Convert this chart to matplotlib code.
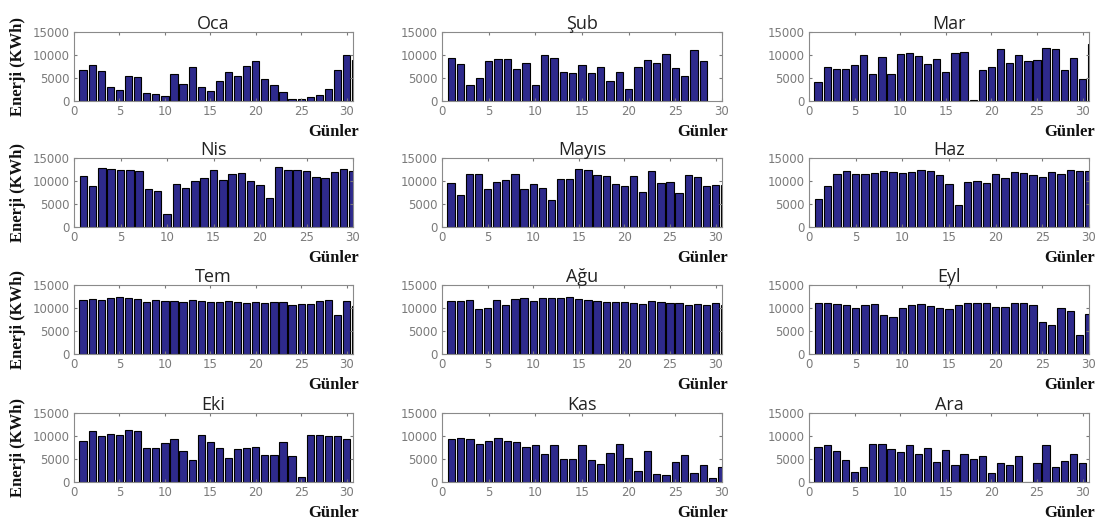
import matplotlib
matplotlib.use('Agg')
import matplotlib.pyplot as plt
import numpy as np

# month titles and daily energy values (KWh)
months = ['Oca', 'Şub', 'Mar', 'Nis', 'Mayıs', 'Haz',
          'Tem', 'Ağu', 'Eyl', 'Eki', 'Kas', 'Ara']

oca = [6700, 7900, 6500, 3100, 2400, 5500, 5300, 1800, 1600, 1000, 5900, 3600, 7400, 3000, 2200, 4400,
       6300, 5500, 7700, 8600, 4800, 3500, 2000, 500, 500, 900, 1300, 2700, 6700, 9900, 9000]
sub = [9400, 8000, 3400, 5100, 8700, 9100, 9100, 7000, 8200, 3400, 9900, 9400, 6200, 6000, 7800, 6100,
       7400, 4400, 6400, 2700, 7400, 8900, 8300, 10300, 7100, 5500, 11100, 8800]
mar = [4200, 7400, 6900, 7000, 7900, 9900, 5900, 9600, 5900, 10300, 10400, 9800, 8100, 9200, 6300, 10500,
       10700, 300, 6700, 7400, 11300, 8300, 10000, 8600, 9000, 11500, 11300, 6700, 9400, 4800, 12300]
nis = [11100, 9000, 12900, 12600, 12400, 12400, 12100, 8200, 7900, 2900, 9300, 8400, 9900, 10700, 12300,
       10200, 11500, 11700, 10000, 9100, 6400, 13100, 12400, 12400, 12100, 10900, 10700, 11900, 12700, 12200]
mayis = [9600, 6900, 11500, 11500, 8300, 9700, 10300, 11500, 8200, 9400, 8400, 5900, 10400, 10400, 12600,
         12300, 11300, 11100, 9300, 9000, 11000, 7600, 12200, 9500, 9700, 7300, 11300, 10800, 9000, 9100, 9100]
haz = [6100, 9000, 11500, 12200, 11500, 11500, 11700, 12100, 11900, 11700, 11900, 12300, 12100, 11300, 9400,
       4700, 9800, 10100, 9600, 11500, 10600, 12000, 11700, 11300, 10800, 11900, 11500, 12300, 12100, 12100]
tem = [11800, 12000, 11800, 12200, 12400, 12200, 12000, 11400, 11800, 11600, 11600, 11400, 11800, 11600,
       11400, 11400, 11600, 11400, 11000, 11400, 11000, 11200, 11200, 10600, 10800, 10800, 11600, 11800,
       8400, 11600, 10400]
agu = [11600, 11600, 11800, 9800, 10100, 11800, 10600, 11900, 12200, 11600, 12100, 12100, 12100, 12400,
       11900, 11800, 11600, 11400, 11400, 11400, 11100, 10900, 11600, 11400, 11100, 11100, 10600, 10900,
       10700, 11100, 10700]
eyl = [11000, 11000, 10800, 10600, 10100, 10600, 10800, 8400, 8000, 10100, 10600, 10800, 10400, 10100, 9800,
       10600, 11100, 11100, 11100, 10300, 10300, 11000, 11000, 10600, 7000, 6300, 10100, 9300, 4100, 8700]
eki = [9000, 11000, 10100, 10500, 10300, 11200, 11000, 7400, 7400, 8500, 9300, 6800, 4800, 10300, 8700,
       7400, 5200, 7100, 7300, 7700, 5900, 5800, 8700, 5700, 1100, 10300, 10300, 9900, 9900, 9300]
kas = [9300, 9500, 9300, 8200, 9000, 9500, 8900, 8700, 7600, 8000, 6100, 8000, 4900, 4900, 8000, 4800,
       4000, 6400, 8200, 5200, 2400, 6800, 1800, 1500, 4400, 5900, 1900, 3800, 900, 3200]
ara = [7600, 8000, 6800, 4800, 2200, 3300, 8200, 8200, 7200, 6600, 8000, 6100, 7400, 4400, 6900, 3600,
       6100, 5000, 5600, 2000, 4200, 3600, 5700, 0, 4200, 8000, 3300, 4600, 6100, 4200]

data = [oca, sub, mar, nis, mayis, haz, tem, agu, eyl, eki, kas, ara]
x_max = [30.7, 30, 30.7, 30, 30.7, 30, 30.7, 30.7, 30, 30.7, 30, 30.7]

W, H = 1100, 525
fig = plt.figure(figsize=(11, 5.25), dpi=100)

# axes boxes in pixels
lefts = [74, 442, 809]
widths = [279, 280, 280]
tops = [32, 158, 285, 413]
height = 69

bar_color = '#2e2a8c'
tick_gray = '#7a7a7a'

for i, (name, vals) in enumerate(zip(months, data)):
    r, c = divmod(i, 3)
    ax = fig.add_axes([lefts[c] / W, 1 - (tops[r] + height) / H, widths[c] / W, height / H])
    days = np.arange(1, len(vals) + 1)
    ax.bar(days, vals, width=0.8, color=bar_color, edgecolor='black', linewidth=0.8)
    ax.set_xlim(0, x_max[i])
    ax.set_ylim(0, 15000)
    ax.set_xticks([0, 5, 10, 15, 20, 25, 30])
    ax.set_yticks([0, 5000, 10000, 15000])
    ax.tick_params(labelsize=8.5, colors=tick_gray, labelcolor=tick_gray, direction='in',
                   length=2, top=True, right=True, pad=3)
    for s in ax.spines.values():
        s.set_color('#8a8a8a')
        s.set_linewidth(0.8)
    ax.set_title(name, fontsize=13, family='Open Sans', color='#222222', pad=2)
    # "Günler" label below bottom-right of each panel
    ax.text(1.02, -0.33, 'Günler', transform=ax.transAxes, ha='right', va='top',
            fontsize=12, fontweight='bold', family='Liberation Serif', color='#111111')
    if c == 0:
        ax.text(-0.2, 0.5, 'Enerji (KWh)', transform=ax.transAxes, ha='center', va='center',
                rotation=90, fontsize=12, fontweight='bold', family='Liberation Serif',
                color='#111111')

fig.savefig('out.png', dpi=100, facecolor='white')
